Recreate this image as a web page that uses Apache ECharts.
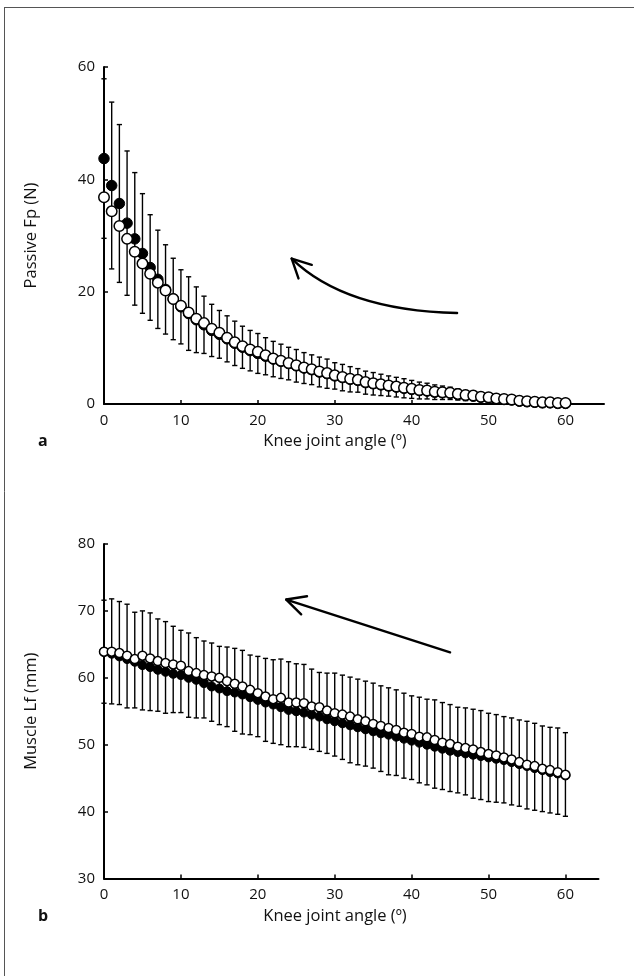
<!DOCTYPE html>
<html>
<head>
<meta charset="utf-8">
<script src="https://cdn.jsdelivr.net/npm/echarts@6/dist/echarts.min.js"></script>
<style>
  html, body { margin: 0; padding: 0; background: #fff; }
  #chart { width: 634px; height: 976px; }
</style>
</head>
<body>
<div id="chart"></div>
<script>
// knee joint angle (deg), shared by both panels
var angles = [0,1,2,3,4,5,6,7,8,9,10,11,12,13,14,15,16,17,18,19,20,21,22,23,24,25,26,27,28,29,30,
  31,32,33,34,35,36,37,38,39,40,41,42,43,44,45,46,47,48,49,50,51,52,53,54,55,56,57,58,59,60];

// panel a - passive Fp (N)
var fpOpen = [36.8,34.3,31.7,29.4,27.1,25.0,23.2,21.6,20.2,18.7,
  17.5,16.3,15.2,14.4,13.4,12.7,11.8,11.0,10.3,9.7,
  9.3,8.7,8.1,7.7,7.3,6.9,6.5,6.2,5.8,5.5,
  5.1,4.8,4.5,4.3,3.9,3.7,3.5,3.3,3.1,2.9,
  2.7,2.5,2.4,2.2,2.1,2.0,1.8,1.6,1.5,1.3,
  1.2,1.0,0.9,0.8,0.6,0.5,0.4,0.3,0.3,0.2,
  0.2];
var fpFilled = [43.7,38.9,35.7,32.2,29.4,26.8,24.3,22.2,20.4,18.7,
  17.3,16.1,15.0,14.1,13.1,12.4,11.6,10.8,10.1,9.5,
  9.0,8.5,8.0,7.6,7.2,6.8,6.4,6.1,5.7,5.4,
  5.0,4.7,4.4,4.2,3.8,3.6,3.4,3.2,3.0,2.8,
  2.6,2.4,2.3,2.1,2.0,1.9,1.7,1.5,1.4,1.2,
  1.1,0.9,0.8,0.7,0.5,0.4,0.3,0.2,0.2,0.1,
  0.1];
var fpSD = [14.2,14.85,14.05,12.85,11.8,10.65,9.4,8.75,7.95,7.25,
  6.6,6.55,5.85,5.1,4.65,4.25,4.1,3.95,3.75,3.6,
  3.55,3.3,3.15,3.05,2.9,2.9,2.75,2.65,2.65,2.6,
  2.35,2.35,2.25,2.1,2.05,2.0,1.9,1.8,1.75,1.7,
  1.6,1.5,1.4,1.3,1.2,1.1,1.0,0.9,0.8,0.7,
  0.6,0.5,0.4,0.4,0.3,0.3,0.2,0.2,0.1,0.1,
  0.1];

// panel b - muscle Lf (mm)
var lfOpen = [63.9,63.9,63.7,63.3,62.8,63.3,62.9,62.5,62.2,62.0,
  61.8,61.0,60.7,60.4,60.2,60.0,59.5,59.1,58.7,58.2,
  57.7,57.2,56.8,57.0,56.3,56.3,56.2,55.7,55.6,55.1,
  54.7,54.5,54.2,53.8,53.5,53.1,52.8,52.5,52.2,51.8,
  51.6,51.2,51.1,50.7,50.3,50.1,49.7,49.5,49.3,48.9,
  48.6,48.4,48.1,47.8,47.4,47.0,46.8,46.4,46.2,45.9,
  45.5];
var lfFilled = [63.9,63.6,63.2,62.8,62.4,61.9,61.6,61.2,60.9,60.6,
  60.4,60.0,59.7,59.2,58.7,58.4,58.0,57.8,57.5,57.1,
  56.7,56.3,56.0,55.6,55.2,55.0,54.8,54.5,54.2,53.8,
  53.5,53.2,52.9,52.6,52.3,52.0,51.7,51.5,51.2,50.9,
  50.6,50.3,50.0,49.7,49.4,49.1,48.9,48.7,48.5,48.3,
  48.1,47.9,47.7,47.4,47.1,46.8,46.5,46.2,45.9,45.7,
  45.4];
var lfUpper = [71.6,71.8,71.4,71.0,69.8,70.0,69.7,68.8,68.4,67.7,
  67.1,66.7,66.0,65.5,65.2,64.7,64.6,64.4,64.1,63.4,
  63.2,62.9,62.7,62.8,62.4,62.1,62.0,61.3,60.8,60.7,
  60.7,60.4,60.1,59.8,59.5,59.2,58.8,58.5,58.2,57.7,
  57.3,57.1,56.8,56.7,56.3,56.0,55.6,55.5,55.3,55.1,
  54.7,54.5,54.2,54.0,53.7,53.5,53.2,52.8,52.6,52.5,
  51.8];
var lfLower = [56.2,56.1,56.0,55.5,55.5,55.2,55.1,55.0,54.7,54.8,
  54.8,54.1,54.0,54.0,53.5,53.0,52.7,52.0,51.6,51.5,
  51.2,50.5,50.2,50.0,49.7,49.7,49.6,49.3,49.0,48.7,
  48.3,47.8,47.3,47.0,46.8,46.5,46.0,45.5,45.4,45.0,
  44.8,44.3,44.0,43.5,43.3,43.0,42.8,42.5,42.0,41.8,
  41.5,41.4,41.3,41.0,40.8,40.4,40.2,40.0,39.8,39.6,
  39.3];

var xTickLabels = [0, 10, 20, 30, 40, 50, 60];
var fpTickLabels = [0, 20, 40, 60];
var lfTickLabels = [30, 40, 50, 60, 70, 80];

// arrows drawn on the panels, in data units [angle, value]
var arrowA = { from: [45.9, 16.2], ctrl: [31.3, 16.7], to: [24.4, 25.9] };
var arrowB = { from: [45.0, 63.8], to: [23.7, 71.7] };

var FONT = "'Open Sans', 'DejaVu Sans', sans-serif";
var INK = "#000";

var myChart = echarts.init(document.getElementById("chart"));

function pairs(ys) {
  return angles.map(function (a, i) { return [a, ys[i]]; });
}

//误差棒
function errorBar(params, api) {
  var x = api.value(0);
  var lo = api.coord([x, api.value(1)]);
  var hi = api.coord([x, api.value(2)]);
  var w = 2.6;
  var st = { stroke: INK, lineWidth: 1.4 };
  return {
    type: "group",
    children: [
      { type: "line", shape: { x1: hi[0], y1: hi[1], x2: lo[0], y2: lo[1] }, style: st },
      { type: "line", shape: { x1: hi[0] - w, y1: hi[1], x2: hi[0] + w, y2: hi[1] }, style: st },
      { type: "line", shape: { x1: lo[0] - w, y1: lo[1], x2: lo[0] + w, y2: lo[1] }, style: st },
    ],
  };
}

function xAxisCfg(grid, max) {
  return {
    gridIndex: grid,
    type: "value",
    min: 0,
    max: max,
    axisLine: { show: true, onZero: false, lineStyle: { color: INK, width: 2 } },
    axisTick: { show: true, inside: true, length: 4, customValues: [10, 20, 30, 40, 50, 60], lineStyle: { color: INK, width: 1.5 } },
    axisLabel: { customValues: xTickLabels, margin: 9, fontSize: 15, color: "#111", fontFamily: FONT },
    splitLine: { show: false },
  };
}

function yAxisCfg(grid, min, max, labels, name) {
  return {
    gridIndex: grid,
    type: "value",
    min: min,
    max: max,
    name: name,
    nameLocation: "middle",
    nameGap: 64,
    nameTextStyle: { fontSize: 16.5, color: "#111", fontFamily: FONT },
    axisLine: { show: true, onZero: false, lineStyle: { color: INK, width: 2 } },
    axisTick: { show: true, inside: true, length: 4, customValues: labels.slice(1), lineStyle: { color: INK, width: 1.5 } },
    axisLabel: { customValues: labels, margin: 9, fontSize: 15, color: "#111", fontFamily: FONT },
    splitLine: { show: false },
  };
}

var openStyle = { color: "#fff", borderColor: INK, borderWidth: 1.5, opacity: 1 };
var filledStyle = { color: INK, borderColor: INK, borderWidth: 1, opacity: 1 };

myChart.setOption({
  animation: false,
  backgroundColor: "#fff",
  textStyle: { fontFamily: FONT },
  grid: [
    { left: 104, right: 30, top: 67, bottom: 572, outerBoundsMode: "none" },
    { left: 104, right: 35.5, top: 544, bottom: 97.5, outerBoundsMode: "none" },
  ],
  xAxis: [xAxisCfg(0, 65), xAxisCfg(1, 64.3)],
  yAxis: [
    yAxisCfg(0, 0, 60, fpTickLabels, "Passive Fp (N)"),
    yAxisCfg(1, 30, 80, lfTickLabels, "Muscle Lf (mm)"),
  ],
  series: [
    {
      type: "custom",
      xAxisIndex: 0, yAxisIndex: 0,
      renderItem: errorBar,
      clip: false,
      z: 1,
      data: angles.map(function (a, i) { return [a, fpFilled[i] - fpSD[i], fpFilled[i] + fpSD[i]]; }),
    },
    {
      type: "scatter", xAxisIndex: 0, yAxisIndex: 0, z: 2,
      symbol: "circle", symbolSize: 10.5, itemStyle: filledStyle,
      data: pairs(fpFilled),
    },
    {
      type: "scatter", xAxisIndex: 0, yAxisIndex: 0, z: 3,
      symbol: "circle", symbolSize: 10.5, itemStyle: openStyle,
      data: pairs(fpOpen),
    },
    {
      type: "custom",
      xAxisIndex: 1, yAxisIndex: 1,
      renderItem: errorBar,
      clip: false,
      z: 1,
      data: angles.map(function (a, i) { return [a, lfLower[i], lfUpper[i]]; }),
    },
    {
      type: "scatter", xAxisIndex: 1, yAxisIndex: 1, z: 2,
      symbol: "circle", symbolSize: 9, itemStyle: filledStyle,
      data: pairs(lfFilled),
    },
    {
      type: "scatter", xAxisIndex: 1, yAxisIndex: 1, z: 3,
      symbol: "circle", symbolSize: 9, itemStyle: openStyle,
      data: pairs(lfOpen),
    },
  ],
});

// frame, panel letters, x titles and arrows
function px(grid, p) {
  return myChart.convertToPixel({ gridIndex: grid }, p);
}
function head(tip, back, len, ang) {
  var a = Math.atan2(back[1] - tip[1], back[0] - tip[0]);
  return [
    [tip[0] + len * Math.cos(a + ang), tip[1] + len * Math.sin(a + ang)],
    tip,
    [tip[0] + len * Math.cos(a - ang), tip[1] + len * Math.sin(a - ang)],
  ];
}

var aFrom = px(0, arrowA.from), aCtrl = px(0, arrowA.ctrl), aTo = px(0, arrowA.to);
var bFrom = px(1, arrowB.from), bTo = px(1, arrowB.to);
var arrowStyle = { stroke: INK, lineWidth: 2.4, fill: null, lineCap: "round", lineJoin: "round" };
var textItem = function (txt, x, y, bold) {
  return {
    type: "text", x: x, y: y,
    style: { text: txt, fill: "#111", font: (bold ? "bold 16px " : "16.5px ") + FONT, textAlign: bold ? "left" : "center", textVerticalAlign: "middle" },
  };
};

myChart.setOption({
  graphic: [
    { type: "line", shape: { x1: 4, y1: 7.5, x2: 634, y2: 7.5 }, style: { stroke: "#555", lineWidth: 1 } },
    { type: "line", shape: { x1: 4.5, y1: 7, x2: 4.5, y2: 976 }, style: { stroke: "#555", lineWidth: 1 } },
    textItem("a", 38, 441, true),
    textItem("Knee joint angle (º)", 335, 441, false),
    textItem("b", 38, 916, true),
    textItem("Knee joint angle (º)", 335, 916, false),
    {
      type: "bezierCurve",
      shape: { x1: aFrom[0], y1: aFrom[1], cpx1: aCtrl[0], cpy1: aCtrl[1], x2: aTo[0], y2: aTo[1] },
      style: arrowStyle,
    },
    { type: "polyline", shape: { points: head(aTo, aCtrl, 21, 0.47) }, style: arrowStyle },
    { type: "line", shape: { x1: bFrom[0], y1: bFrom[1], x2: bTo[0], y2: bTo[1] }, style: arrowStyle },
    { type: "polyline", shape: { points: head(bTo, bFrom, 21, 0.47) }, style: arrowStyle },
  ],
});
</script>
</body>
</html>
